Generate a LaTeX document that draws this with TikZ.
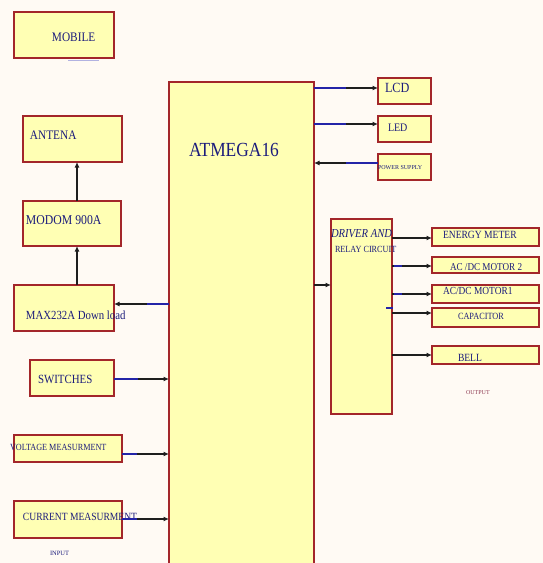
\documentclass[tikz,border=0pt]{standalone}
\usepackage{fontspec}
\setmainfont{Liberation Serif}[FakeStretch=0.87]
\newfontfamily\plainserif{Liberation Serif}
\usetikzlibrary{arrows.meta,calc}
\definecolor{bgc}{HTML}{FFFAF4}
\definecolor{boxfill}{HTML}{FFFFB4}
\definecolor{boxline}{HTML}{A3262A}
\definecolor{txtc}{HTML}{1C1C7C}
\definecolor{wireblue}{HTML}{2424A8}
\definecolor{wireblack}{HTML}{1E1E1E}
\definecolor{outc}{HTML}{8E3A52}
\tikzset{
  blk/.style={draw=boxline, fill=boxfill, line width=1.3pt, inner sep=0pt, outer sep=0pt},
  txt/.style={inner sep=0pt, outer sep=0pt, anchor=west, text=txtc},
  conn/.style={draw=wireblack, line width=1.3pt, -{Latex[length=5.5pt,width=5pt]}},
  bwire/.style={draw=wireblue, line width=1.3pt},
}
\newcommand{\fs}[1]{\fontsize{#1}{#1}\selectfont}
\begin{document}
\begin{tikzpicture}[x=1pt,y=-1pt]
\useasboundingbox (0,0) rectangle (543,563);
\clip (0,0) rectangle (543,563);
\fill[bgc] (0,0) rectangle (543,563);

% boxes
\node[blk, minimum width=100, minimum height=46] (mobile) at (64,35) {};
\node[blk, minimum width=99, minimum height=46] (antena) at (72.5,139) {};
\node[blk, minimum width=98, minimum height=45] (modom) at (72,223.5) {};
\node[blk, minimum width=100, minimum height=46] (max) at (64,308) {};
\node[blk, minimum width=84, minimum height=36] (switches) at (72,378) {};
\node[blk, minimum width=108, minimum height=27] (voltage) at (68,448.5) {};
\node[blk, minimum width=108, minimum height=37] (current) at (68,519.5) {};
\node[blk, minimum width=145, minimum height=490] (atmega) at (241.5,327) {};
\node[blk, minimum width=53, minimum height=26] (lcd) at (404.5,91) {};
\node[blk, minimum width=53, minimum height=26] (led) at (404.5,129) {};
\node[blk, minimum width=53, minimum height=26] (power) at (404.5,167) {};
\node[blk, minimum width=61, minimum height=195] (driver) at (361.5,316.5) {};
\node[blk, minimum width=107, minimum height=18] (energy) at (485.5,237) {};
\node[blk, minimum width=107, minimum height=16] (motor2) at (485.5,265) {};
\node[blk, minimum width=107, minimum height=18] (motor1) at (485.5,294) {};
\node[blk, minimum width=107, minimum height=19] (capacitor) at (485.5,317.5) {};
\node[blk, minimum width=107, minimum height=18] (bell) at (485.5,355) {};

% texts
\node[txt, font=\fs{13}] (tmobile) at (52,37.5) {MOBILE};
\node[txt, font=\fs{20}] (tatmega) at (189,149.5) {ATMEGA16};
\node[txt, font=\fs{13}] (tantena) at (30,135) {ANTENA};
\node[txt, font=\fs{13.5}] (tmodom) at (26,220) {MODOM 900A};
\node[txt, font=\fs{12.4}] (tmax) at (26,315) {MAX232A Down load};
\node[txt, font=\fs{12.5}] (tswitches) at (38,379) {SWITCHES};
\node[txt, font=\fs{9.4}] (tvoltage) at (10,447.5) {VOLTAGE MEASURMENT};
\node[txt, font=\fs{11}] (tcurrent) at (23,516.5) {CURRENT MEASURMENT};
\node[txt, font=\plainserif\fs{6.5}] (tinput) at (50,553) {INPUT};
\node[txt, font=\fs{14}] (tlcd) at (385,88) {LCD};
\node[txt, font=\fs{11.5}] (tled) at (388,127.5) {LED};
\node[txt, font=\plainserif\fs{6}] (tpower) at (378,168) {POWER SUPPLY};
\node[txt, font=\itshape\fs{12.2}] (tdriver) at (331,234) {DRIVER AND};
\node[txt, font=\fs{9.4}] (trelay) at (335,249.5) {RELAY CIRCUIT};
\node[txt, font=\fs{11}] (tenergy) at (443,235) {ENERGY METER};
\node[txt, font=\fs{10.5}] (tmotor2) at (450,267) {AC /DC MOTOR 2};
\node[txt, font=\fs{10.8}] (tmotor1) at (443,291) {AC/DC MOTOR1};
\node[txt, font=\fs{9.5}] (tcap) at (458,316) {CAPACITOR};
\node[txt, font=\fs{11}] (tbell) at (458,357.5) {BELL};
\node[txt, font=\plainserif\fs{6}, text=outc] (toutput) at (466,393) {OUTPUT};

% faint mark under MOBILE
\draw[draw=wireblue!35, line width=0.8pt] (68,60) -- (99,60);

% helper y-levels
\coordinate (yLCD) at (0,88);
\coordinate (yLED) at (0,124);
\coordinate (yPWR) at (0,163);
\coordinate (yMAX) at (0,304);
\coordinate (ySW) at (0,379);
\coordinate (yVOL) at (0,454);
\coordinate (yCUR) at (0,519);
\coordinate (yDRV) at (0,285);
\coordinate (yEN) at (0,238);
\coordinate (yM2) at (0,266);
\coordinate (yM1) at (0,294);
\coordinate (yCAP) at (0,313);
\coordinate (yBELL) at (0,355);
\coordinate (xV) at (77,0);

% vertical connectors
\draw[conn] (max.north -| xV) -- (modom.south -| xV);
\draw[conn] (modom.north -| xV) -- (antena.south -| xV);

% horizontal connectors (black with arrow, blue first part)
\draw[conn] (atmega.east |- yLCD) -- (lcd.west |- yLCD);
\draw[bwire] (atmega.east |- yLCD) -- ($(atmega.east |- yLCD)!0.5!(lcd.west |- yLCD)$);
\draw[conn] (atmega.east |- yLED) -- (led.west |- yLED);
\draw[bwire] (atmega.east |- yLED) -- ($(atmega.east |- yLED)!0.5!(led.west |- yLED)$);
\draw[conn] (power.west |- yPWR) -- (atmega.east |- yPWR);
\draw[bwire] (power.west |- yPWR) -- ($(power.west |- yPWR)!0.5!(atmega.east |- yPWR)$);
\draw[conn] (atmega.west |- yMAX) -- (max.east |- yMAX);
\draw[bwire] (atmega.west |- yMAX) -- ($(atmega.west |- yMAX)!0.4!(max.east |- yMAX)$);
\draw[conn] (switches.east |- ySW) -- (atmega.west |- ySW);
\draw[bwire] (switches.east |- ySW) -- ($(switches.east |- ySW)!0.44!(atmega.west |- ySW)$);
\draw[conn] (voltage.east |- yVOL) -- (atmega.west |- yVOL);
\draw[bwire] (voltage.east |- yVOL) -- ($(voltage.east |- yVOL)!0.32!(atmega.west |- yVOL)$);
\draw[conn] (current.east |- yCUR) -- (atmega.west |- yCUR);
\draw[bwire] (current.east |- yCUR) -- ($(current.east |- yCUR)!0.32!(atmega.west |- yCUR)$);
\draw[conn] (atmega.east |- yDRV) -- (driver.west |- yDRV);

% driver outputs
\draw[conn] (driver.east |- yEN) -- (energy.west |- yEN);
\draw[conn] (driver.east |- yM2) -- (motor2.west |- yM2);
\draw[conn] (driver.east |- yM1) -- (motor1.west |- yM1);
\draw[conn] (driver.east |- yCAP) -- (capacitor.west |- yCAP);
\draw[conn] (driver.east |- yBELL) -- (bell.west |- yBELL);
\draw[bwire] ($(driver.east |- yM2)+(2,0)$) -- ++(8,0);
\draw[bwire] ($(driver.east |- yM1)+(2,0)$) -- ++(8,0);
\draw[bwire] ($(driver.east |- 0,308)+(-6,0)$) -- ++(7,0);
\end{tikzpicture}
\end{document}
